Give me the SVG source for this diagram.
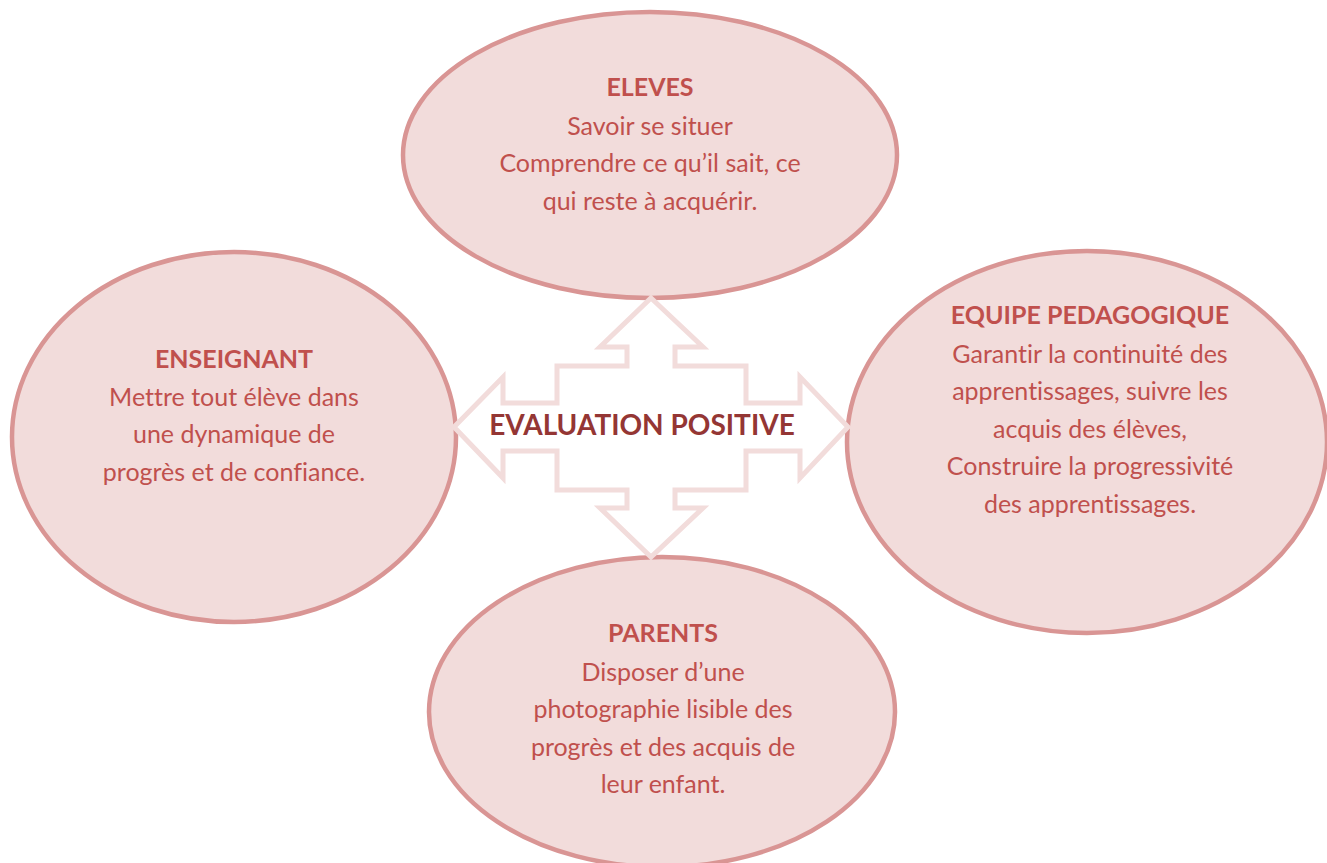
<svg xmlns="http://www.w3.org/2000/svg" width="1327" height="863" viewBox="0 0 1327 863">
<style>
.bubble{fill:#f2dcdb;stroke:#d99594;stroke-width:4.5}
.arrow{fill:#ffffff;stroke:#f2dcdb;stroke-width:5;stroke-linejoin:miter}
text{font-family:Lato,"Open Sans","DejaVu Sans",sans-serif;text-anchor:middle;fill:#c0504d;font-variant-ligatures:none}
.t{font-weight:bold;font-size:25px}
.b{font-size:25px}
.center{font-weight:bold;font-size:28px;fill:#943634}
</style>
<rect width="1327" height="863" fill="#ffffff"/>
<g id="node-enseignant">
<ellipse class="bubble" cx="234" cy="437" rx="222" ry="185"/>
<text class="t" x="234" y="368">ENSEIGNANT</text>
<text class="b" x="234" y="406">Mettre tout élève dans</text>
<text class="b" x="234" y="443">une dynamique de</text>
<text class="b" x="234" y="481">progrès et de confiance.</text>
</g>
<g id="node-equipe">
<ellipse class="bubble" cx="1087" cy="442" rx="240" ry="191"/>
<text class="t" x="1090" y="324">EQUIPE PEDAGOGIQUE</text>
<text class="b" x="1090" y="363">Garantir la continuité des</text>
<text class="b" x="1090" y="400">apprentissages, suivre les</text>
<text class="b" x="1090" y="438">acquis des élèves,</text>
<text class="b" x="1090" y="475">Construire la progressivité</text>
<text class="b" x="1090" y="513">des apprentissages.</text>
</g>
<g id="node-parents">
<ellipse class="bubble" cx="662" cy="712" rx="233" ry="155"/>
<text class="t" x="663" y="642">PARENTS</text>
<text class="b" x="663" y="681">Disposer d’une</text>
<text class="b" x="663" y="718">photographie lisible des</text>
<text class="b" x="663" y="756">progrès et des acquis de</text>
<text class="b" x="663" y="793">leur enfant.</text>
</g>
<g id="node-eleves">
<ellipse class="bubble" cx="650" cy="155" rx="247" ry="143"/>
<text class="t" x="650" y="96">ELEVES</text>
<text class="b" x="650" y="135">Savoir se situer</text>
<text class="b" x="650" y="172">Comprendre ce qu’il sait, ce</text>
<text class="b" x="650" y="210">qui reste à acquérir.</text>
</g>
<g id="connectors">
<path class="arrow" d="M651,298 L703,347 L675,347 L675,366 L746,366 L746,403 L800,403 L800,377 L848,427 L800,478 L800,451 L746,451 L746,490 L675,490 L675,508 L703,508 L651,557 L600,508 L627,508 L627,490 L557,490 L557,451 L503,451 L503,478 L454,427 L503,377 L503,403 L557,403 L557,366 L627,366 L627,347 L600,347 Z"/>
</g>
<g id="node-center">
<text class="center" x="642" y="435">EVALUATION POSITIVE</text>
</g>
</svg>
